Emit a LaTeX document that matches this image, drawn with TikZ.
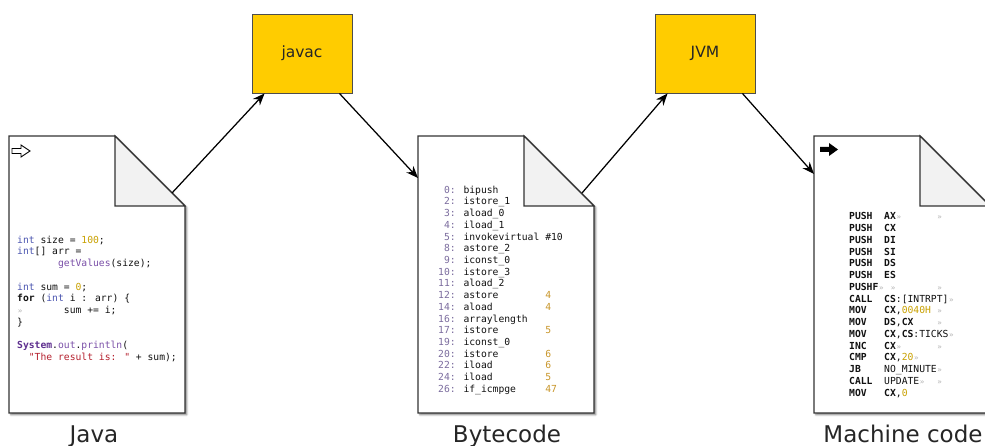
\documentclass[tikz,border=0pt]{standalone}
\usepackage{fontspec}
\setmainfont{DejaVu Sans}
\newfontfamily\codefont{DejaVu Sans Mono}
\usetikzlibrary{arrows.meta,shadows.blur,calc}

\definecolor{docline}{HTML}{333333}
\definecolor{foldfill}{HTML}{F2F2F2}
\definecolor{boxfill}{HTML}{FFCC00}
\definecolor{boxline}{HTML}{4D4D4D}
\definecolor{kw}{HTML}{4B55B0}
\definecolor{num}{HTML}{C9A100}
\definecolor{meth}{HTML}{7A4FA8}
\definecolor{cls}{HTML}{5E2F8F}
\definecolor{str}{HTML}{B5202E}
\definecolor{lnum}{HTML}{7B6C9E}
\definecolor{opnd}{HTML}{C9962A}
\definecolor{codetxt}{HTML}{111111}

\newcommand\tm{\makebox[5.84pt][c]{\fontsize{7.5}{7.5}\selectfont\color{black!30}»}}
\newcommand\docpage[1]{%
  \fill[white, blur shadow={shadow xshift=1.8pt,shadow yshift=-1.8pt,shadow blur radius=1.8pt,shadow opacity=50}]
    (#1,136) -- ({#1+106},136) -- ({#1+176},206) -- ({#1+176},413) -- (#1,413) -- cycle;
  \draw[docedge] (#1,136) -- ({#1+106},136) -- ({#1+176},206) -- ({#1+176},413) -- (#1,413) -- cycle;
  \draw[docedge, fill=foldfill] ({#1+106},136) -- ({#1+106},206) -- ({#1+176},206) -- cycle;
}

\begin{document}
\begin{tikzpicture}[x=1pt,y=-1pt,
  docedge/.style={draw=docline, line width=1.2pt, line join=miter},
  procbox/.style={draw=boxline, fill=boxfill, line width=0.9pt, inner sep=0pt,
    minimum width=100pt, minimum height=79pt, text=black!85,
    font=\fontsize{15.5}{18}\selectfont},
  conn/.style={draw=black, line width=1.25pt, -{Stealth[length=12pt,width=9.5pt]}},
  code/.style={anchor=base west, inner sep=0pt, text=codetxt,
    font=\codefont\fontsize{9.7}{11.7}\selectfont},
  lbl/.style={anchor=base, inner sep=0pt, text=black!85,
    font=\fontsize{23}{27}\selectfont}]
\useasboundingbox (0,0) rectangle (985,446);

% documents
\docpage{9}
\docpage{418}
\docpage{814}

% icons
\draw[line width=0.9pt, fill=white, line join=miter]
  (12,148.5) -- (21,148.5) -- (21,145) -- (30,151) -- (21,157) -- (21,153.5) -- (12,153.5) -- cycle;
\fill[black] (820,147) -- (829,147) -- (829,143) -- (838,149.5) -- (829,156) -- (829,152) -- (820,152) -- cycle;

% process boxes
\node[procbox] (javac) at (302,53.5) {javac};
\node[procbox] (jvm) at (705,53.5) {JVM};

% connector ends on documents
\coordinate (javaout) at (172,193);
\coordinate (bcin) at (418,178);
\coordinate (bcout) at (582,193);
\coordinate (mcin) at (814,174);

\draw[conn] (javaout) -- ($(javac.south west)+(13,0)$);
\draw[conn] ($(javac.south east)+(-13,0)$) -- (bcin);
\draw[conn] (bcout) -- ($(jvm.south west)+(13,0)$);
\draw[conn] ($(jvm.south east)+(-13,0)$) -- (mcin);

% Java code
\node[code] (j0) at (17,243.3) {{\color{kw}int} size = {\color{num}100};};
\node[code] (j1) at (17,255.0) {{\color{kw}int}[] arr =};
\node[code] (j2) at (17,266.7) {~~~~~~~{\color{meth}getValues}(size);};
\node[code] (j4) at (17,290.1) {{\color{kw}int} sum = {\color{num}0};};
\node[code] (j5) at (17,301.8) {\textbf{for} ({\color{kw}int} i : arr) \{};
\node[code] (j6) at (17,313.5) {\tm~~~~~~~sum += i;};
\node[code] (j7) at (17,325.2) {\}};
\node[code] (j9) at (17,348.6) {{\bfseries\color{cls}System}.{\color{meth}out}.{\color{meth}println}(};
\node[code] (j10) at (17,360.3) {~~{\color{str}"The result is: "} + sum);};

% Bytecode
\node[code] (b0) at (438,193.3) {{\color{lnum}~0:} bipush};
\node[code] (b1) at (438,205.0) {{\color{lnum}~2:} istore\_1};
\node[code] (b2) at (438,216.7) {{\color{lnum}~3:} aload\_0};
\node[code] (b3) at (438,228.4) {{\color{lnum}~4:} iload\_1};
\node[code] (b4) at (438,240.1) {{\color{lnum}~5:} invokevirtual \#10};
\node[code] (b5) at (438,251.8) {{\color{lnum}~8:} astore\_2};
\node[code] (b6) at (438,263.5) {{\color{lnum}~9:} iconst\_0};
\node[code] (b7) at (438,275.2) {{\color{lnum}10:} istore\_3};
\node[code] (b8) at (438,286.9) {{\color{lnum}11:} aload\_2};
\node[code] (b9) at (438,298.6) {{\color{lnum}12:} astore~~~~~~~~{\color{opnd}4}};
\node[code] (b10) at (438,310.3) {{\color{lnum}14:} aload~~~~~~~~~{\color{opnd}4}};
\node[code] (b11) at (438,322.0) {{\color{lnum}16:} arraylength};
\node[code] (b12) at (438,333.7) {{\color{lnum}17:} istore~~~~~~~~{\color{opnd}5}};
\node[code] (b13) at (438,345.4) {{\color{lnum}19:} iconst\_0};
\node[code] (b14) at (438,357.1) {{\color{lnum}20:} istore~~~~~~~~{\color{opnd}6}};
\node[code] (b15) at (438,368.8) {{\color{lnum}22:} iload~~~~~~~~~{\color{opnd}6}};
\node[code] (b16) at (438,380.5) {{\color{lnum}24:} iload~~~~~~~~~{\color{opnd}5}};
\node[code] (b17) at (438,392.2) {{\color{lnum}26:} if\_icmpge~~~~~{\color{opnd}47}};

% Machine code
\node[code] (m0) at (849,220.0) {\textbf{PUSH~~AX}\tm~~~~~~\tm};
\node[code] (m1) at (849,231.7) {\textbf{PUSH~~CX}};
\node[code] (m2) at (849,243.5) {\textbf{PUSH~~DI}};
\node[code] (m3) at (849,255.2) {\textbf{PUSH~~SI}};
\node[code] (m4) at (849,266.9) {\textbf{PUSH~~DS}};
\node[code] (m5) at (849,278.7) {\textbf{PUSH~~ES}};
\node[code] (m6) at (849,290.4) {\textbf{PUSHF}\tm~\tm~~~~~~~\tm};
\node[code] (m7) at (849,302.1) {\textbf{CALL~~CS}:[INTRPT]\tm};
\node[code] (m8) at (849,313.8) {\textbf{MOV~~~CX},{\color{num}0040H}~\tm};
\node[code] (m9) at (849,325.6) {\textbf{MOV~~~DS},\textbf{CX}~~~~\tm};
\node[code] (m10) at (849,337.3) {\textbf{MOV~~~CX},\textbf{CS}:TICKS\tm};
\node[code] (m11) at (849,349.0) {\textbf{INC~~~CX}\tm~~~~~~\tm};
\node[code] (m12) at (849,360.8) {\textbf{CMP~~~CX},{\color{num}20}\tm};
\node[code] (m13) at (849,372.5) {\textbf{JB}~~~~NO\_MINUTE\tm};
\node[code] (m14) at (849,384.2) {\textbf{CALL}~~UPDATE\tm~~\tm};
\node[code] (m15) at (849,396.0) {\textbf{MOV~~~CX},{\color{num}0}};

% labels
\node[lbl] (javalbl) at (94,442) {Java};
\node[lbl] (bclbl) at (507,442) {Bytecode};
\node[lbl] (mclbl) at (903,442) {Machine code};
\end{tikzpicture}
\end{document}
